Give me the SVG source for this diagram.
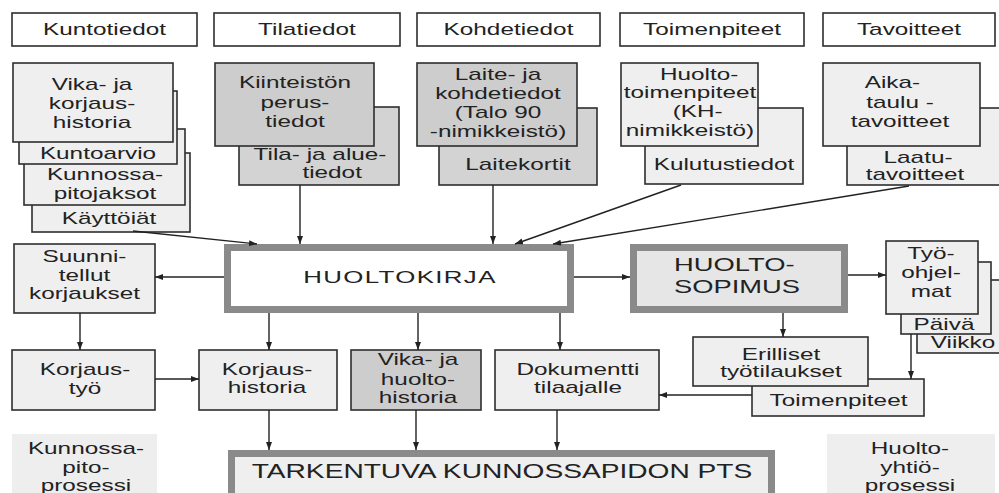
<svg xmlns="http://www.w3.org/2000/svg" width="999" height="493" viewBox="0 0 999 493">
  <style>
    .box { stroke: #2e2e2e; stroke-width: 1.6; }
    .lt { fill: #efefef; }
    .gy { fill: #cdcdcd; }
    .gy2 { fill: #d3d3d3; }
    .wh { fill: #ffffff; }
    .thick { stroke: #8a8a8a; stroke-width: 7; }
    .bg { fill: #eeeeee; }
    text { font-family: "Liberation Sans", Arial, Helvetica, sans-serif; font-size: 16px; fill: #222222; text-anchor: middle; }
    .big { font-size: 17px; letter-spacing: 0.9px; }
    .pts { font-size: 21px; }
    .sop { font-size: 18px; text-anchor: start; }
    #connectors line, #connectors polyline { stroke: #222222; stroke-width: 1.4; fill: none; marker-end: url(#ah); }
  </style>
  <defs>
    <marker id="ah" viewBox="0 0 8 6" refX="8" refY="3" markerWidth="8" markerHeight="6" markerUnits="userSpaceOnUse" orient="auto">
      <path d="M0,0 L8,3 L0,6 Z" fill="#222222"/>
    </marker>
  </defs>

  <rect width="999" height="493" fill="#ffffff"/>

  <!-- Column headers -->
  <g id="h-kuntotiedot">
    <rect class="box wh" x="12" y="13" width="185" height="33"/>
    <text transform="translate(104.5,0) scale(1.52,1)"><tspan x="0" y="35">Kuntotiedot</tspan></text>
  </g>
  <g id="h-tilatiedot">
    <rect class="box wh" x="214" y="13" width="186" height="33"/>
    <text transform="translate(307,0) scale(1.52,1)"><tspan x="0" y="35">Tilatiedot</tspan></text>
  </g>
  <g id="h-kohdetiedot">
    <rect class="box wh" x="417" y="13" width="183" height="33"/>
    <text transform="translate(508.5,0) scale(1.52,1)"><tspan x="0" y="35">Kohdetiedot</tspan></text>
  </g>
  <g id="h-toimenpiteet">
    <rect class="box wh" x="620" y="13" width="184" height="33"/>
    <text transform="translate(712,0) scale(1.52,1)"><tspan x="0" y="35">Toimenpiteet</tspan></text>
  </g>
  <g id="h-tavoitteet">
    <rect class="box wh" x="823" y="13" width="172" height="33"/>
    <text transform="translate(909,0) scale(1.52,1)"><tspan x="0" y="35">Tavoitteet</tspan></text>
  </g>

  <!-- Kuntotiedot stack (back to front) -->
  <g id="n-kayttoiat">
    <rect class="box lt" x="32" y="153" width="158" height="79"/>
    <text transform="translate(109,0) scale(1.52,1)"><tspan x="0" y="224">Käyttöiät</tspan></text>
  </g>
  <g id="n-kunnossapitojaksot">
    <rect class="box lt" x="24" y="129" width="161" height="76"/>
    <text transform="translate(105,0) scale(1.52,1)"><tspan x="0" y="180">Kunnossa-</tspan><tspan x="0" y="199">pitojaksot</tspan></text>
  </g>
  <g id="n-kuntoarvio">
    <rect class="box lt" x="19" y="91" width="158" height="73"/>
    <text transform="translate(98,0) scale(1.52,1)"><tspan x="0" y="159">Kuntoarvio</tspan></text>
  </g>
  <g id="n-vikakorjaushistoria">
    <rect class="box lt" x="13" y="63" width="160" height="79"/>
    <text transform="translate(92,0) scale(1.52,1)"><tspan x="0" y="90">Vika- ja</tspan><tspan x="0" y="109">korjaus-</tspan><tspan x="0" y="128">historia</tspan></text>
  </g>

  <!-- Tilatiedot stack -->
  <g id="n-tilajaaluetiedot">
    <rect class="box gy2" x="239" y="107" width="160" height="78"/>
    <text transform="translate(320,0) scale(1.52,1)"><tspan x="0" y="160">Tila- ja alue-</tspan><tspan x="8" y="178">tiedot</tspan></text>
  </g>
  <g id="n-kiinteistonperustiedot">
    <rect class="box gy" x="215" y="63" width="159" height="83"/>
    <text transform="translate(295,0) scale(1.52,1)"><tspan x="0" y="88">Kiinteistön</tspan><tspan x="0" y="108">perus-</tspan><tspan x="0" y="127">tiedot</tspan></text>
  </g>

  <!-- Kohdetiedot stack -->
  <g id="n-laitekortit">
    <rect class="box gy2" x="439" y="108" width="158" height="77"/>
    <text transform="translate(518,0) scale(1.52,1)"><tspan x="0" y="170">Laitekortit</tspan></text>
  </g>
  <g id="n-laitekohdetiedot">
    <rect class="box gy" x="417" y="63" width="160" height="83"/>
    <text transform="translate(498,0) scale(1.52,1)"><tspan x="0" y="80">Laite- ja</tspan><tspan x="0" y="99">kohdetiedot</tspan><tspan x="0" y="118">(Talo 90</tspan><tspan x="0" y="137">-nimikkeistö)</tspan></text>
  </g>

  <!-- Toimenpiteet stack -->
  <g id="n-kulutustiedot">
    <rect class="box lt" x="645" y="108" width="158" height="76"/>
    <text transform="translate(724,0) scale(1.52,1)"><tspan x="0" y="170">Kulutustiedot</tspan></text>
  </g>
  <g id="n-huoltotoimenpiteet">
    <rect class="box lt" x="621" y="63" width="137" height="83"/>
    <text transform="translate(690,0) scale(1.52,1)"><tspan x="6" y="80">Huolto-</tspan><tspan x="0" y="98">toimenpiteet</tspan><tspan x="5" y="117">(KH-</tspan><tspan x="0" y="136">nimikkeistö)</tspan></text>
  </g>

  <!-- Tavoitteet stack -->
  <g id="n-laatutavoitteet">
    <rect class="box lt" x="847" y="108" width="160" height="77"/>
    <text transform="translate(915,0) scale(1.52,1)"><tspan x="2" y="163">Laatu-</tspan><tspan x="0" y="180">tavoitteet</tspan></text>
  </g>
  <g id="n-aikataulutavoitteet">
    <rect class="box lt" x="823" y="63" width="157" height="83"/>
    <text transform="translate(900,0) scale(1.52,1)"><tspan x="-5" y="88">Aika-</tspan><tspan x="0" y="108">taulu -</tspan><tspan x="0" y="127">tavoitteet</tspan></text>
  </g>

  <!-- Central row -->
  <g id="n-suunnitellutkorjaukset">
    <rect class="box lt" x="14" y="244" width="141" height="69"/>
    <text transform="translate(84.5,0) scale(1.52,1)"><tspan x="0" y="262">Suunni-</tspan><tspan x="0" y="281">tellut</tspan><tspan x="0" y="299">korjaukset</tspan></text>
  </g>
  <g id="n-huoltokirja">
    <rect class="thick wh" x="227.5" y="247.5" width="343" height="62"/>
    <text class="big" transform="translate(400,0) scale(1.52,1)"><tspan x="0" y="283">HUOLTOKIRJA</tspan></text>
  </g>
  <g id="n-huoltosopimus">
    <rect class="thick" fill="#e6e6e6" x="633.5" y="247.5" width="211" height="62"/>
    <text class="sop" transform="translate(674,0) scale(1.52,1)"><tspan x="0" y="271">HUOLTO-</tspan><tspan x="0" y="293">SOPIMUS</tspan></text>
  </g>

  <!-- Work programme stack -->
  <g id="n-viikko">
    <rect class="box lt" x="917" y="280" width="90" height="73"/>
    <text transform="translate(963,0) scale(1.52,1)"><tspan x="0" y="348">Viikko</tspan></text>
  </g>
  <g id="n-paiva">
    <rect class="box lt" x="901" y="262" width="90" height="72"/>
    <text transform="translate(944,0) scale(1.52,1)"><tspan x="0" y="330">Päivä</tspan></text>
  </g>
  <g id="n-tyoohjelmat">
    <rect class="box lt" x="886" y="241" width="92" height="73"/>
    <text transform="translate(931,0) scale(1.52,1)"><tspan x="0" y="259">Työ-</tspan><tspan x="0" y="278">ohjel-</tspan><tspan x="0" y="297">mat</tspan></text>
  </g>

  <!-- Lower row -->
  <g id="n-korjaustyo">
    <rect class="box lt" x="12" y="350" width="143" height="60"/>
    <text transform="translate(85,0) scale(1.52,1)"><tspan x="0" y="375">Korjaus-</tspan><tspan x="0" y="394">työ</tspan></text>
  </g>
  <g id="n-korjaushistoria">
    <rect class="box lt" x="199" y="350" width="138" height="60"/>
    <text transform="translate(267,0) scale(1.52,1)"><tspan x="0" y="375">Korjaus-</tspan><tspan x="0" y="393">historia</tspan></text>
  </g>
  <g id="n-vikahuoltohistoria">
    <rect class="box gy" x="351" y="350" width="130" height="60"/>
    <text transform="translate(418,0) scale(1.52,1)"><tspan x="0" y="365">Vika- ja</tspan><tspan x="0" y="385">huolto-</tspan><tspan x="0" y="403">historia</tspan></text>
  </g>
  <g id="n-dokumenttitilaajalle">
    <rect class="box lt" x="495" y="350" width="164" height="60"/>
    <text transform="translate(578,0) scale(1.52,1)"><tspan x="0" y="375">Dokumentti</tspan><tspan x="0" y="393">tilaajalle</tspan></text>
  </g>
  <g id="n-toimenpiteet">
    <rect class="box lt" x="752" y="379" width="172" height="37"/>
    <text transform="translate(838.5,0) scale(1.52,1)"><tspan x="0" y="406">Toimenpiteet</tspan></text>
  </g>
  <g id="n-erillisettyotilaukset">
    <rect class="box lt" x="693" y="337" width="175" height="49"/>
    <text transform="translate(781,0) scale(1.52,1)"><tspan x="0" y="360">Erilliset</tspan><tspan x="0" y="377">työtilaukset</tspan></text>
  </g>

  <!-- Bottom -->
  <g id="n-kunnossapitoprosessi">
    <rect class="bg" x="12" y="434" width="145" height="70"/>
    <text transform="translate(86,0) scale(1.52,1)"><tspan x="0" y="454">Kunnossa-</tspan><tspan x="0" y="473">pito-</tspan><tspan x="0" y="491">prosessi</tspan></text>
  </g>
  <g id="n-tarkentuvapts">
    <rect class="thick" fill="#efefef" x="231.5" y="453.5" width="540" height="60"/>
    <text class="pts" transform="translate(502,0) scale(1.34,1)"><tspan x="0" y="478">TARKENTUVA KUNNOSSAPIDON PTS</tspan></text>
  </g>
  <g id="n-huoltoyhtioprosessi">
    <rect class="bg" x="827" y="434" width="168" height="70"/>
    <text transform="translate(910,0) scale(1.52,1)"><tspan x="0" y="454">Huolto-</tspan><tspan x="0" y="473">yhtiö-</tspan><tspan x="0" y="491">prosessi</tspan></text>
  </g>

  <!-- Connectors -->
  <g id="connectors">
    <line x1="133" y1="231" x2="257" y2="244"/>
    <line x1="300" y1="185" x2="300" y2="244"/>
    <line x1="493" y1="185" x2="493" y2="244"/>
    <line x1="681" y1="185" x2="515" y2="244"/>
    <line x1="909" y1="186" x2="553" y2="244"/>
    <line x1="224" y1="277" x2="155" y2="277"/>
    <line x1="574" y1="277" x2="630" y2="277"/>
    <line x1="848" y1="275" x2="886" y2="275"/>
    <line x1="80" y1="313" x2="80" y2="350"/>
    <line x1="269" y1="313" x2="269" y2="350"/>
    <line x1="418" y1="313" x2="418" y2="350"/>
    <line x1="560" y1="313" x2="560" y2="350"/>
    <line x1="155" y1="379" x2="199" y2="379"/>
    <line x1="269" y1="410" x2="269" y2="450"/>
    <line x1="416" y1="410" x2="416" y2="450"/>
    <line x1="557" y1="410" x2="557" y2="450"/>
    <line x1="783" y1="313" x2="783" y2="337"/>
    <line x1="911" y1="334" x2="911" y2="379"/>
    <line x1="752" y1="395" x2="659" y2="395"/>
  </g>
</svg>
